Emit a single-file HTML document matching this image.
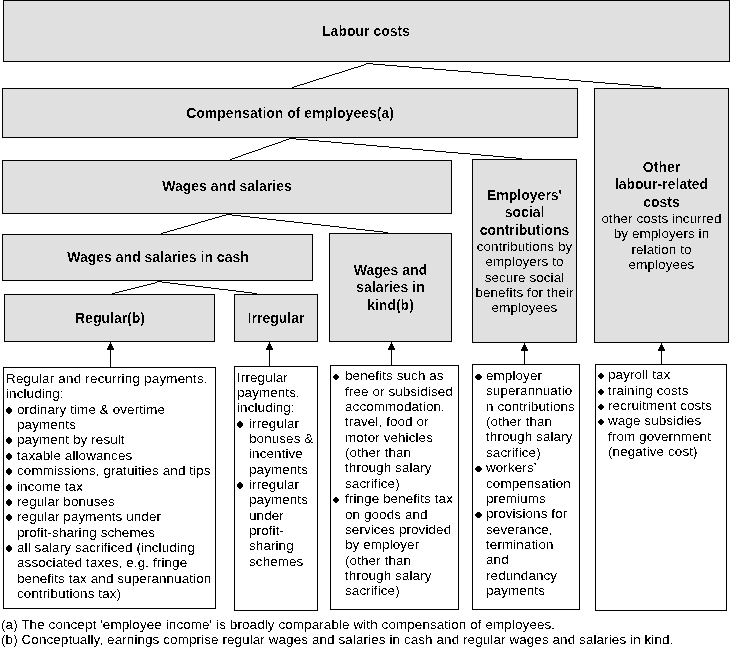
<!DOCTYPE html>
<html><head><meta charset="utf-8"><style>
html,body{margin:0;padding:0;background:#fff;width:730px;height:658px;overflow:hidden;position:relative}
.bx{position:absolute;box-sizing:border-box;border:1px solid #000;background:#fff}
.g{background:#e0e0e0}
.tn,.tb{position:absolute;white-space:nowrap;color:#000;font-family:"Liberation Sans",sans-serif}
.lay{position:absolute;left:0;top:0;width:730px;height:658px}
#txt{filter:url(#thr)}
#txtb{filter:url(#thrb)}
.tn{font-size:13.4px;line-height:15px;letter-spacing:0.12px}
.tb{font-size:14px;font-weight:bold;line-height:17px}
.c{text-align:center}
svg{position:absolute;left:0;top:0}
</style></head><body>
<div class="bx g" style="left:3px;top:0px;width:727px;height:62px"></div>
<div class="bx g" style="left:2px;top:88px;width:576px;height:50px"></div>
<div class="bx g" style="left:594px;top:88px;width:135px;height:255px"></div>
<div class="bx g" style="left:2px;top:160px;width:450px;height:54px"></div>
<div class="bx g" style="left:472px;top:159px;width:105px;height:184px"></div>
<div class="bx g" style="left:2px;top:234px;width:311px;height:47px"></div>
<div class="bx g" style="left:329px;top:233px;width:123px;height:109px"></div>
<div class="bx g" style="left:4px;top:294px;width:211px;height:48px"></div>
<div class="bx g" style="left:234px;top:294px;width:84px;height:48px"></div>
<div class="bx" style="left:3px;top:367px;width:213px;height:242px"></div>
<div class="bx" style="left:234px;top:366px;width:84px;height:245px"></div>
<div class="bx" style="left:330px;top:365px;width:129px;height:245px"></div>
<div class="bx" style="left:472px;top:364px;width:108px;height:246px"></div>
<div class="bx" style="left:595px;top:364px;width:132px;height:247px"></div>
<div id="txtb" class="lay">
<div class="tb c" style="left:216.0px;top:23px;width:300px">Labour costs</div>
<div class="tb c" style="left:140.0px;top:105px;width:300px">Compensation of employees(a)</div>
<div class="tb c" style="left:77.0px;top:178px;width:300px">Wages and salaries</div>
<div class="tb c" style="left:8.0px;top:249px;width:300px">Wages and salaries in cash</div>
<div class="tb c" style="left:-40.0px;top:310px;width:300px">Regular(b)</div>
<div class="tb c" style="left:126.0px;top:310px;width:300px">Irregular</div>
<div class="tb c" style="left:240.5px;top:262px;width:300px">Wages and</div>
<div class="tb c" style="left:240.5px;top:279px;width:300px">salaries in</div>
<div class="tb c" style="left:240.5px;top:297px;width:300px">kind(b)</div>
<div class="tb c" style="left:374.5px;top:187px;width:300px">Employers'</div>
<div class="tb c" style="left:374.5px;top:204px;width:300px">social</div>
<div class="tb c" style="left:374.5px;top:222px;width:300px">contributions</div>
<div class="tb c" style="left:511.5px;top:159px;width:300px">Other</div>
<div class="tb c" style="left:511.5px;top:176px;width:300px">labour-related</div>
<div class="tb c" style="left:511.5px;top:194px;width:300px">costs</div>
</div>
<div id="txt" class="lay">
<div class="tn c" style="left:374.5px;top:239px;width:300px">contributions by</div>
<div class="tn c" style="left:374.5px;top:254px;width:300px">employers to</div>
<div class="tn c" style="left:374.5px;top:270px;width:300px">secure social</div>
<div class="tn c" style="left:374.5px;top:285px;width:300px">benefits for their</div>
<div class="tn c" style="left:374.5px;top:300px;width:300px">employees</div>
<div class="tn c" style="left:511.5px;top:211px;width:300px">other costs incurred</div>
<div class="tn c" style="left:511.5px;top:226px;width:300px">by employers in</div>
<div class="tn c" style="left:511.5px;top:242px;width:300px">relation to</div>
<div class="tn c" style="left:511.5px;top:257px;width:300px">employees</div>
<div class="tn" style="left:6px;top:371px"><span style="letter-spacing:0.22px">Regular and recurring payments,</span></div>
<div class="tn" style="left:6px;top:386px">including:</div>
<div class="tn" style="left:17px;top:402px">ordinary time &amp; overtime</div>
<div class="tn" style="left:17px;top:417px">payments</div>
<div class="tn" style="left:17px;top:432px">payment by result</div>
<div class="tn" style="left:17px;top:448px">taxable allowances</div>
<div class="tn" style="left:17px;top:463px">commissions, gratuities and tips</div>
<div class="tn" style="left:17px;top:479px">income tax</div>
<div class="tn" style="left:17px;top:494px">regular bonuses</div>
<div class="tn" style="left:17px;top:509px">regular payments under</div>
<div class="tn" style="left:17px;top:525px">profit-sharing schemes</div>
<div class="tn" style="left:17px;top:540px">all salary sacrificed (including</div>
<div class="tn" style="left:17px;top:555px">associated taxes, e.g. fringe</div>
<div class="tn" style="left:17px;top:571px">benefits tax and superannuation</div>
<div class="tn" style="left:17px;top:586px">contributions tax)</div>
<div class="tn" style="left:237px;top:370px">Irregular</div>
<div class="tn" style="left:237px;top:385px">payments,</div>
<div class="tn" style="left:237px;top:400px">including:</div>
<div class="tn" style="left:249px;top:416px">irregular</div>
<div class="tn" style="left:249px;top:431px">bonuses &amp;</div>
<div class="tn" style="left:249px;top:446px">incentive</div>
<div class="tn" style="left:249px;top:462px">payments</div>
<div class="tn" style="left:249px;top:477px">irregular</div>
<div class="tn" style="left:249px;top:492px">payments</div>
<div class="tn" style="left:249px;top:508px">under</div>
<div class="tn" style="left:249px;top:523px">profit-</div>
<div class="tn" style="left:249px;top:538px">sharing</div>
<div class="tn" style="left:249px;top:554px">schemes</div>
<div class="tn" style="left:345px;top:368px">benefits such as</div>
<div class="tn" style="left:345px;top:384px">free or subsidised</div>
<div class="tn" style="left:345px;top:399px">accommodation,</div>
<div class="tn" style="left:345px;top:414px">travel, food or</div>
<div class="tn" style="left:345px;top:430px">motor vehicles</div>
<div class="tn" style="left:345px;top:445px">(other than</div>
<div class="tn" style="left:345px;top:460px">through salary</div>
<div class="tn" style="left:345px;top:476px">sacrifice)</div>
<div class="tn" style="left:345px;top:491px">fringe benefits tax</div>
<div class="tn" style="left:345px;top:507px">on goods and</div>
<div class="tn" style="left:345px;top:522px">services provided</div>
<div class="tn" style="left:345px;top:537px">by employer</div>
<div class="tn" style="left:345px;top:553px">(other than</div>
<div class="tn" style="left:345px;top:568px">through salary</div>
<div class="tn" style="left:345px;top:583px">sacrifice)</div>
<div class="tn" style="left:486px;top:368px">employer</div>
<div class="tn" style="left:486px;top:383px">superannuatio</div>
<div class="tn" style="left:486px;top:399px">n contributions</div>
<div class="tn" style="left:486px;top:414px">(other than</div>
<div class="tn" style="left:486px;top:429px">through salary</div>
<div class="tn" style="left:486px;top:445px">sacrifice)</div>
<div class="tn" style="left:486px;top:460px">workers'</div>
<div class="tn" style="left:486px;top:476px">compensation</div>
<div class="tn" style="left:486px;top:491px">premiums</div>
<div class="tn" style="left:486px;top:506px">provisions for</div>
<div class="tn" style="left:486px;top:522px">severance,</div>
<div class="tn" style="left:486px;top:537px">termination</div>
<div class="tn" style="left:486px;top:552px">and</div>
<div class="tn" style="left:486px;top:568px">redundancy</div>
<div class="tn" style="left:486px;top:583px">payments</div>
<div class="tn" style="left:608px;top:367px">payroll tax</div>
<div class="tn" style="left:608px;top:383px">training costs</div>
<div class="tn" style="left:608px;top:398px">recruitment costs</div>
<div class="tn" style="left:608px;top:413px">wage subsidies</div>
<div class="tn" style="left:608px;top:429px">from government</div>
<div class="tn" style="left:608px;top:444px">(negative cost)</div>
<div class="tn" style="left:1px;top:617px">(a) The concept 'employee income' is broadly comparable with compensation of employees.</div>
<div class="tn" style="left:1px;top:632px">(b) Conceptually, earnings comprise regular wages and salaries in cash and regular wages and salaries in kind.</div>
</div>
<svg width="0" height="0" style="position:absolute"><filter id="thr" x="0" y="0" width="100%" height="100%"><feComponentTransfer><feFuncA type="discrete" tableValues="0 1"/></feComponentTransfer></filter><filter id="thrb" x="0" y="0" width="100%" height="100%"><feComponentTransfer><feFuncA type="discrete" tableValues="0 0 0 0 0 0 0 0 0 0 0 1 1 1 1 1 1 1 1 1"/></feComponentTransfer></filter></svg>
<svg width="730" height="658" viewBox="0 0 730 658" shape-rendering="crispEdges">
<rect x="364" y="64" width="2" height="1"/>
<rect x="361" y="65" width="3" height="1"/>
<rect x="358" y="66" width="3" height="1"/>
<rect x="354" y="67" width="4" height="1"/>
<rect x="351" y="68" width="3" height="1"/>
<rect x="348" y="69" width="3" height="1"/>
<rect x="345" y="70" width="3" height="1"/>
<rect x="342" y="71" width="3" height="1"/>
<rect x="339" y="72" width="3" height="1"/>
<rect x="335" y="73" width="4" height="1"/>
<rect x="332" y="74" width="3" height="1"/>
<rect x="329" y="75" width="3" height="1"/>
<rect x="326" y="76" width="3" height="1"/>
<rect x="323" y="77" width="3" height="1"/>
<rect x="319" y="78" width="4" height="1"/>
<rect x="316" y="79" width="3" height="1"/>
<rect x="313" y="80" width="3" height="1"/>
<rect x="310" y="81" width="3" height="1"/>
<rect x="307" y="82" width="3" height="1"/>
<rect x="304" y="83" width="3" height="1"/>
<rect x="300" y="84" width="4" height="1"/>
<rect x="297" y="85" width="3" height="1"/>
<rect x="294" y="86" width="3" height="1"/>
<rect x="292" y="87" width="2" height="1"/>
<rect x="366" y="63" width="7" height="1"/>
<rect x="373" y="64" width="12" height="1"/>
<rect x="385" y="65" width="12" height="1"/>
<rect x="397" y="66" width="12" height="1"/>
<rect x="409" y="67" width="13" height="1"/>
<rect x="422" y="68" width="12" height="1"/>
<rect x="434" y="69" width="12" height="1"/>
<rect x="446" y="70" width="12" height="1"/>
<rect x="458" y="71" width="13" height="1"/>
<rect x="471" y="72" width="12" height="1"/>
<rect x="483" y="73" width="12" height="1"/>
<rect x="495" y="74" width="12" height="1"/>
<rect x="507" y="75" width="13" height="1"/>
<rect x="520" y="76" width="12" height="1"/>
<rect x="532" y="77" width="12" height="1"/>
<rect x="544" y="78" width="12" height="1"/>
<rect x="556" y="79" width="13" height="1"/>
<rect x="569" y="80" width="12" height="1"/>
<rect x="581" y="81" width="12" height="1"/>
<rect x="593" y="82" width="12" height="1"/>
<rect x="605" y="83" width="13" height="1"/>
<rect x="618" y="84" width="12" height="1"/>
<rect x="630" y="85" width="12" height="1"/>
<rect x="642" y="86" width="12" height="1"/>
<rect x="654" y="87" width="7" height="1"/>
<rect x="289" y="138" width="2" height="1"/>
<rect x="286" y="139" width="3" height="1"/>
<rect x="283" y="140" width="3" height="1"/>
<rect x="281" y="141" width="2" height="1"/>
<rect x="278" y="142" width="3" height="1"/>
<rect x="275" y="143" width="3" height="1"/>
<rect x="272" y="144" width="3" height="1"/>
<rect x="269" y="145" width="3" height="1"/>
<rect x="266" y="146" width="3" height="1"/>
<rect x="263" y="147" width="3" height="1"/>
<rect x="261" y="148" width="2" height="1"/>
<rect x="258" y="149" width="3" height="1"/>
<rect x="255" y="150" width="3" height="1"/>
<rect x="252" y="151" width="3" height="1"/>
<rect x="249" y="152" width="3" height="1"/>
<rect x="246" y="153" width="3" height="1"/>
<rect x="243" y="154" width="3" height="1"/>
<rect x="241" y="155" width="2" height="1"/>
<rect x="238" y="156" width="3" height="1"/>
<rect x="235" y="157" width="3" height="1"/>
<rect x="232" y="158" width="3" height="1"/>
<rect x="230" y="159" width="2" height="1"/>
<rect x="290" y="138" width="6" height="1"/>
<rect x="296" y="139" width="12" height="1"/>
<rect x="308" y="140" width="11" height="1"/>
<rect x="319" y="141" width="12" height="1"/>
<rect x="331" y="142" width="11" height="1"/>
<rect x="342" y="143" width="12" height="1"/>
<rect x="354" y="144" width="12" height="1"/>
<rect x="366" y="145" width="11" height="1"/>
<rect x="377" y="146" width="12" height="1"/>
<rect x="389" y="147" width="11" height="1"/>
<rect x="400" y="148" width="12" height="1"/>
<rect x="412" y="149" width="11" height="1"/>
<rect x="423" y="150" width="12" height="1"/>
<rect x="435" y="151" width="11" height="1"/>
<rect x="446" y="152" width="12" height="1"/>
<rect x="458" y="153" width="12" height="1"/>
<rect x="470" y="154" width="11" height="1"/>
<rect x="481" y="155" width="12" height="1"/>
<rect x="493" y="156" width="11" height="1"/>
<rect x="504" y="157" width="12" height="1"/>
<rect x="516" y="158" width="6" height="1"/>
<rect x="226" y="214" width="2" height="1"/>
<rect x="222" y="215" width="4" height="1"/>
<rect x="219" y="216" width="3" height="1"/>
<rect x="215" y="217" width="4" height="1"/>
<rect x="212" y="218" width="3" height="1"/>
<rect x="208" y="219" width="4" height="1"/>
<rect x="205" y="220" width="3" height="1"/>
<rect x="201" y="221" width="4" height="1"/>
<rect x="198" y="222" width="3" height="1"/>
<rect x="195" y="223" width="3" height="1"/>
<rect x="191" y="224" width="4" height="1"/>
<rect x="188" y="225" width="3" height="1"/>
<rect x="184" y="226" width="4" height="1"/>
<rect x="181" y="227" width="3" height="1"/>
<rect x="177" y="228" width="4" height="1"/>
<rect x="174" y="229" width="3" height="1"/>
<rect x="170" y="230" width="4" height="1"/>
<rect x="167" y="231" width="3" height="1"/>
<rect x="163" y="232" width="4" height="1"/>
<rect x="161" y="233" width="2" height="1"/>
<rect x="227" y="214" width="5" height="1"/>
<rect x="232" y="215" width="9" height="1"/>
<rect x="241" y="216" width="9" height="1"/>
<rect x="250" y="217" width="9" height="1"/>
<rect x="259" y="218" width="8" height="1"/>
<rect x="267" y="219" width="9" height="1"/>
<rect x="276" y="220" width="9" height="1"/>
<rect x="285" y="221" width="9" height="1"/>
<rect x="294" y="222" width="9" height="1"/>
<rect x="303" y="223" width="9" height="1"/>
<rect x="312" y="224" width="9" height="1"/>
<rect x="321" y="225" width="9" height="1"/>
<rect x="330" y="226" width="9" height="1"/>
<rect x="339" y="227" width="8" height="1"/>
<rect x="347" y="228" width="9" height="1"/>
<rect x="356" y="229" width="9" height="1"/>
<rect x="365" y="230" width="9" height="1"/>
<rect x="374" y="231" width="9" height="1"/>
<rect x="383" y="232" width="5" height="1"/>
<rect x="155" y="282" width="2" height="1"/>
<rect x="151" y="283" width="4" height="1"/>
<rect x="147" y="284" width="4" height="1"/>
<rect x="143" y="285" width="4" height="1"/>
<rect x="139" y="286" width="4" height="1"/>
<rect x="135" y="287" width="4" height="1"/>
<rect x="131" y="288" width="4" height="1"/>
<rect x="127" y="289" width="4" height="1"/>
<rect x="123" y="290" width="4" height="1"/>
<rect x="119" y="291" width="4" height="1"/>
<rect x="115" y="292" width="4" height="1"/>
<rect x="112" y="293" width="3" height="1"/>
<rect x="157" y="281" width="5" height="1"/>
<rect x="162" y="282" width="8" height="1"/>
<rect x="170" y="283" width="8" height="1"/>
<rect x="178" y="284" width="8" height="1"/>
<rect x="186" y="285" width="9" height="1"/>
<rect x="195" y="286" width="8" height="1"/>
<rect x="203" y="287" width="8" height="1"/>
<rect x="211" y="288" width="8" height="1"/>
<rect x="219" y="289" width="9" height="1"/>
<rect x="228" y="290" width="8" height="1"/>
<rect x="236" y="291" width="8" height="1"/>
<rect x="244" y="292" width="8" height="1"/>
<rect x="252" y="293" width="5" height="1"/>
<rect x="110" y="342" width="1" height="25"/>
<rect x="109" y="344" width="3" height="2"/>
<rect x="108" y="346" width="5" height="2"/>
<rect x="107" y="348" width="7" height="2"/>
<rect x="269" y="342" width="1" height="24"/>
<rect x="268" y="344" width="3" height="2"/>
<rect x="267" y="346" width="5" height="2"/>
<rect x="266" y="348" width="7" height="2"/>
<rect x="391" y="342" width="1" height="23"/>
<rect x="390" y="344" width="3" height="2"/>
<rect x="389" y="346" width="5" height="2"/>
<rect x="388" y="348" width="7" height="2"/>
<rect x="524" y="343" width="1" height="21"/>
<rect x="523" y="345" width="3" height="2"/>
<rect x="522" y="347" width="5" height="2"/>
<rect x="521" y="349" width="7" height="2"/>
<rect x="661" y="343" width="1" height="21"/>
<rect x="660" y="345" width="3" height="2"/>
<rect x="659" y="347" width="5" height="2"/>
<rect x="658" y="349" width="7" height="2"/>
<rect x="8" y="407" width="2" height="1"/><rect x="7" y="408" width="4" height="1"/><rect x="6" y="409" width="6" height="1"/><rect x="6" y="410" width="6" height="1"/><rect x="6" y="411" width="6" height="1"/><rect x="7" y="412" width="4" height="1"/><rect x="8" y="413" width="2" height="1"/>
<rect x="8" y="437" width="2" height="1"/><rect x="7" y="438" width="4" height="1"/><rect x="6" y="439" width="6" height="1"/><rect x="6" y="440" width="6" height="1"/><rect x="6" y="441" width="6" height="1"/><rect x="7" y="442" width="4" height="1"/><rect x="8" y="443" width="2" height="1"/>
<rect x="8" y="453" width="2" height="1"/><rect x="7" y="454" width="4" height="1"/><rect x="6" y="455" width="6" height="1"/><rect x="6" y="456" width="6" height="1"/><rect x="6" y="457" width="6" height="1"/><rect x="7" y="458" width="4" height="1"/><rect x="8" y="459" width="2" height="1"/>
<rect x="8" y="468" width="2" height="1"/><rect x="7" y="469" width="4" height="1"/><rect x="6" y="470" width="6" height="1"/><rect x="6" y="471" width="6" height="1"/><rect x="6" y="472" width="6" height="1"/><rect x="7" y="473" width="4" height="1"/><rect x="8" y="474" width="2" height="1"/>
<rect x="8" y="484" width="2" height="1"/><rect x="7" y="485" width="4" height="1"/><rect x="6" y="486" width="6" height="1"/><rect x="6" y="487" width="6" height="1"/><rect x="6" y="488" width="6" height="1"/><rect x="7" y="489" width="4" height="1"/><rect x="8" y="490" width="2" height="1"/>
<rect x="8" y="499" width="2" height="1"/><rect x="7" y="500" width="4" height="1"/><rect x="6" y="501" width="6" height="1"/><rect x="6" y="502" width="6" height="1"/><rect x="6" y="503" width="6" height="1"/><rect x="7" y="504" width="4" height="1"/><rect x="8" y="505" width="2" height="1"/>
<rect x="8" y="514" width="2" height="1"/><rect x="7" y="515" width="4" height="1"/><rect x="6" y="516" width="6" height="1"/><rect x="6" y="517" width="6" height="1"/><rect x="6" y="518" width="6" height="1"/><rect x="7" y="519" width="4" height="1"/><rect x="8" y="520" width="2" height="1"/>
<rect x="8" y="545" width="2" height="1"/><rect x="7" y="546" width="4" height="1"/><rect x="6" y="547" width="6" height="1"/><rect x="6" y="548" width="6" height="1"/><rect x="6" y="549" width="6" height="1"/><rect x="7" y="550" width="4" height="1"/><rect x="8" y="551" width="2" height="1"/>
<rect x="239" y="421" width="2" height="1"/><rect x="238" y="422" width="4" height="1"/><rect x="237" y="423" width="6" height="1"/><rect x="237" y="424" width="6" height="1"/><rect x="237" y="425" width="6" height="1"/><rect x="238" y="426" width="4" height="1"/><rect x="239" y="427" width="2" height="1"/>
<rect x="239" y="482" width="2" height="1"/><rect x="238" y="483" width="4" height="1"/><rect x="237" y="484" width="6" height="1"/><rect x="237" y="485" width="6" height="1"/><rect x="237" y="486" width="6" height="1"/><rect x="238" y="487" width="4" height="1"/><rect x="239" y="488" width="2" height="1"/>
<rect x="335" y="374" width="2" height="1"/><rect x="334" y="375" width="4" height="1"/><rect x="333" y="376" width="6" height="1"/><rect x="333" y="377" width="6" height="1"/><rect x="334" y="378" width="4" height="1"/><rect x="335" y="379" width="2" height="1"/>
<rect x="335" y="497" width="2" height="1"/><rect x="334" y="498" width="4" height="1"/><rect x="333" y="499" width="6" height="1"/><rect x="333" y="500" width="6" height="1"/><rect x="334" y="501" width="4" height="1"/><rect x="335" y="502" width="2" height="1"/>
<rect x="477" y="374" width="3" height="1"/><rect x="476" y="375" width="5" height="1"/><rect x="475" y="376" width="7" height="1"/><rect x="475" y="377" width="7" height="1"/><rect x="476" y="378" width="5" height="1"/><rect x="477" y="379" width="3" height="1"/>
<rect x="477" y="466" width="3" height="1"/><rect x="476" y="467" width="5" height="1"/><rect x="475" y="468" width="7" height="1"/><rect x="475" y="469" width="7" height="1"/><rect x="476" y="470" width="5" height="1"/><rect x="477" y="471" width="3" height="1"/>
<rect x="477" y="512" width="3" height="1"/><rect x="476" y="513" width="5" height="1"/><rect x="475" y="514" width="7" height="1"/><rect x="475" y="515" width="7" height="1"/><rect x="476" y="516" width="5" height="1"/><rect x="477" y="517" width="3" height="1"/>
<rect x="600" y="373" width="2" height="1"/><rect x="599" y="374" width="4" height="1"/><rect x="598" y="375" width="6" height="1"/><rect x="598" y="376" width="6" height="1"/><rect x="599" y="377" width="4" height="1"/><rect x="600" y="378" width="2" height="1"/>
<rect x="600" y="389" width="2" height="1"/><rect x="599" y="390" width="4" height="1"/><rect x="598" y="391" width="6" height="1"/><rect x="598" y="392" width="6" height="1"/><rect x="599" y="393" width="4" height="1"/><rect x="600" y="394" width="2" height="1"/>
<rect x="600" y="404" width="2" height="1"/><rect x="599" y="405" width="4" height="1"/><rect x="598" y="406" width="6" height="1"/><rect x="598" y="407" width="6" height="1"/><rect x="599" y="408" width="4" height="1"/><rect x="600" y="409" width="2" height="1"/>
<rect x="600" y="419" width="2" height="1"/><rect x="599" y="420" width="4" height="1"/><rect x="598" y="421" width="6" height="1"/><rect x="598" y="422" width="6" height="1"/><rect x="599" y="423" width="4" height="1"/><rect x="600" y="424" width="2" height="1"/>
</svg>
</body></html>
